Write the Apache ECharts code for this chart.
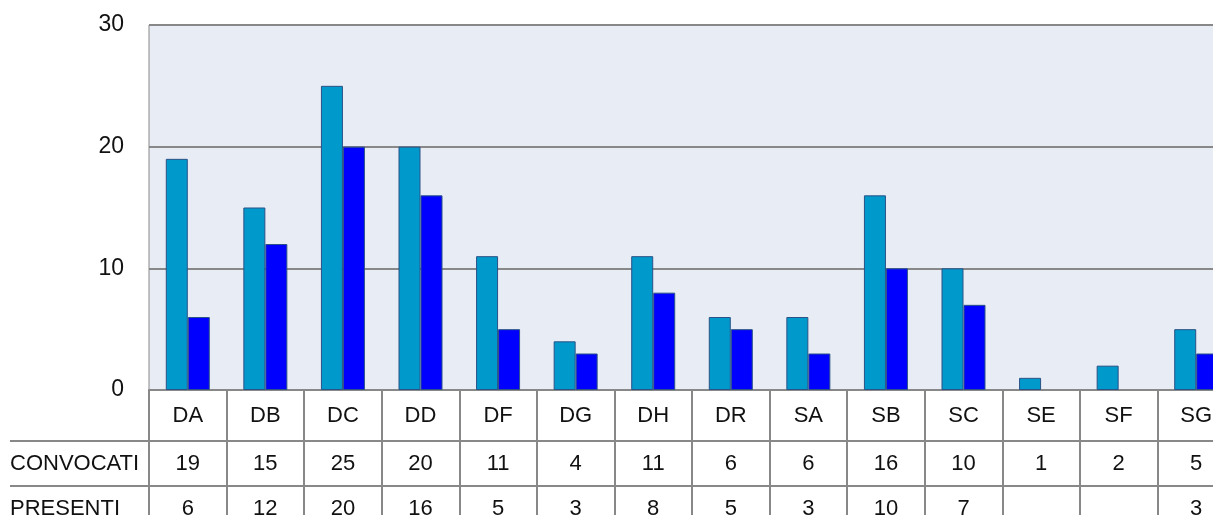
<!DOCTYPE html>
<html>
<head>
<meta charset="utf-8">
<script src="https://cdn.jsdelivr.net/npm/echarts@6/dist/echarts.min.js"></script>
<style>
html,body{margin:0;padding:0;background:#fff;overflow:hidden;width:1213px;height:515px;}
#c{width:1240px;height:540px;}
</style>
</head>
<body>
<div id="c"></div>
<script>
const categories = ['DA','DB','DC','DD','DF','DG','DH','DR','SA','SB','SC','SE','SF','SG'];
const convocati = [19,15,25,20,11,4,11,6,6,16,10,1,2,5];
const presenti = [6,12,20,16,5,3,8,5,3,10,7,null,null,3];
const rowNames = ['CONVOCATI','PRESENTI'];
const yTicks = {min:0,max:30,interval:10};

const FONT = 'Liberation Sans';
const GRAY = '#888888';

function cells(arr,row){
  const out=[];
  arr.forEach((v,i)=>{ if(v!==null && v!==undefined) out.push([i,row,v]); });
  return out;
}

const cellLabel = {show:true, position:'inside', formatter:p=>String(p.value[2]), fontSize:22,
  color:'#111', fontFamily:FONT, textBorderWidth:0, textBorderColor:'transparent', opacity:1};

const chart = echarts.init(document.getElementById('c'), null, {renderer:'canvas'});
chart.setOption({
  animation:false,
  textStyle:{fontFamily:FONT},
  grid:[
    {left:149, top:25, width:1086, height:365, show:true, backgroundColor:'#E8ECF5', borderColor:GRAY, borderWidth:1, containLabel:false},
    {left:149, top:441, width:1086, height:90, show:false, containLabel:false}
  ],
  xAxis:[
    {type:'category', gridIndex:0, data:categories, boundaryGap:true,
     axisLine:{show:true, lineStyle:{color:GRAY, width:2}},
     axisTick:{show:true, interval:0, length:51, lineStyle:{color:GRAY, width:2}},
     axisLabel:{interval:0, margin:15, fontSize:22, color:'#111', fontFamily:FONT}},
    {type:'category', gridIndex:1, data:categories, boundaryGap:true,
     axisLine:{show:false}, axisTick:{show:false}, axisLabel:{show:false},
     splitLine:{show:true, interval:0, lineStyle:{color:GRAY, width:2}}}
  ],
  yAxis:[
    {type:'value', gridIndex:0, min:yTicks.min, max:yTicks.max, interval:yTicks.interval,
     axisLine:{show:false}, axisTick:{show:false},
     axisLabel:{margin:25, fontSize:23, color:'#111', fontFamily:FONT},
     splitLine:{show:true, lineStyle:{color:GRAY, width:2}}},
    {type:'category', gridIndex:1, data:rowNames, inverse:true, boundaryGap:true,
     axisLine:{show:true, lineStyle:{color:GRAY, width:2}},
     axisTick:{show:true, interval:0, length:139, lineStyle:{color:GRAY, width:2}},
     axisLabel:{interval:0, margin:139, align:'left', fontSize:22, color:'#111', fontFamily:FONT},
     splitLine:{show:true, interval:0, lineStyle:{color:GRAY, width:2}}}
  ],
  series:[
    {name:'CONVOCATI', type:'bar', xAxisIndex:0, yAxisIndex:0, data:convocati, barWidth:22, barGap:'0%',
     itemStyle:{color:'#0099CC', borderColor:'#2A5286', borderWidth:1}},
    {name:'PRESENTI', type:'bar', xAxisIndex:0, yAxisIndex:0, data:presenti, barWidth:22, barGap:'0%',
     itemStyle:{color:'#0000FF', borderColor:'#2A5286', borderWidth:1}},
    {type:'scatter', xAxisIndex:1, yAxisIndex:1, symbolSize:0, data:cells(convocati,0),
     itemStyle:{color:'#111'}, label:cellLabel},
    {type:'scatter', xAxisIndex:1, yAxisIndex:1, symbolSize:0, data:cells(presenti,1),
     itemStyle:{color:'#111'}, label:cellLabel}
  ]
});
</script>
</body>
</html>
